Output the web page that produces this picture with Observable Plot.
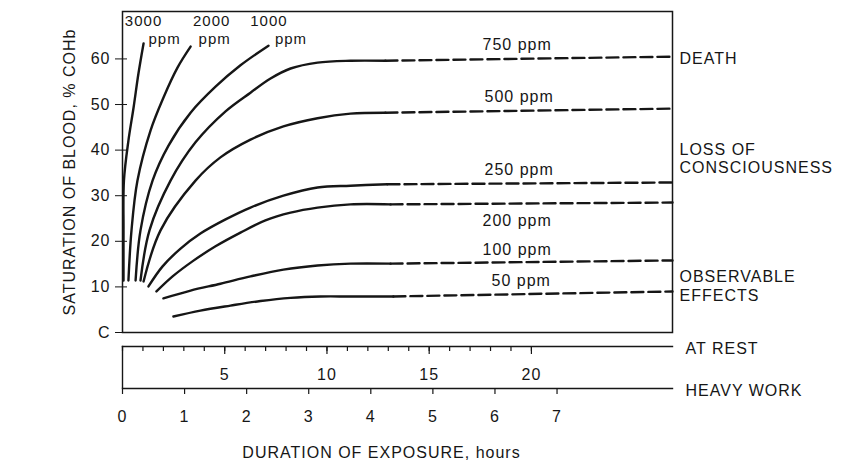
<!DOCTYPE html>
<html><head><meta charset="utf-8">
<script src="https://cdn.jsdelivr.net/npm/d3@7"></script>
<script src="https://cdn.jsdelivr.net/npm/@observablehq/plot@0.6"></script>
<style>
body{margin:0;background:#fff;}
#chart{width:863px;height:461px;position:relative;}
#chart svg{display:block;overflow:visible;}
#chart svg text{letter-spacing:1px;}
</style></head><body><div id="chart"></div>
<script>
// ---- data ----
const xMax = 26.9;        // at-rest hours at the right edge of the frame
const workMax = 8.86;     // heavy-work hours at the right edge
const yTop = 70.4;
const yTicks = [0, 10, 20, 30, 40, 50, 60];
const restTicks = d3.range(0, 21);
const restLabels = [5, 10, 15, 20];
const workTicks = [0, 1, 2, 3, 4, 5, 6, 7];

const ppm = ["3000", "2000", "1000", "750", "500", "250", "200", "100", "50"];
const c3000 = [[0.05,11.4],[0.05,22.4],[0.07,33.3],[0.29,42.1],[0.54,49.3],[0.78,56.8],[1.03,63.4]];
const c2000 = [[0.29,11.4],[0.44,22.4],[0.73,33.3],[1.37,44.3],[2.00,51.5],[2.69,58.1],[3.33,62.7]];
const c1000 = [[0.64,11.4],[0.88,22.4],[1.47,33.3],[2.25,41.0],[3.33,48.2],[4.55,53.9],[5.77,58.6],[7.14,62.9]];
const c750  = [[0.88,11.4],[1.32,22.4],[2.35,33.3],[3.57,41.7],[5.04,48.5],[6.26,52.6],[7.24,55.7],[8.22,57.9],[9.54,59.2],[11.15,59.6],[12.86,59.6]];
const c500  = [[1.03,11.2],[1.86,22.4],[3.57,33.3],[4.79,38.4],[6.26,42.3],[7.87,45.2],[9.54,47.0],[11.15,48.0],[12.86,48.2]];
const c250  = [[1.27,10.1],[1.96,14.5],[2.84,18.4],[3.81,21.7],[5.04,24.8],[6.26,27.4],[7.87,30.0],[9.54,31.8],[11.15,32.2],[12.96,32.5]];
const c200  = [[1.66,9.0],[2.45,12.3],[3.42,15.6],[4.55,18.9],[5.77,21.9],[6.99,24.6],[8.22,26.3],[9.54,27.4],[11.15,28.1],[13.11,28.1]];
const c100  = [[2.00,7.5],[3.33,9.2],[4.79,10.7],[6.26,12.3],[7.87,13.8],[9.54,14.7],[11.15,15.1],[13.11,15.1]];
const c50   = [[2.49,3.5],[3.81,4.8],[5.28,5.9],[6.75,6.9],[8.22,7.6],[9.68,7.9],[11.15,7.9],[13.25,7.9]];
const solidCurves = [c3000, c2000, c1000, c750, c500, c250, c200, c100, c50];
// level reached at the right edge (dashed extrapolation), null = no extension
const dashEnd = [null, null, null, 60.5, 49.1, 32.9, 28.5, 15.8, 9.0];

const topNums = ["3000", "2000", "1000"];
const topNumX = [1.03, 4.36, 7.16];
const topNumY = 68.3;
const topPpmX = [2.06, 4.51, 8.24];
const topPpmY = 64.3;

const curveLabels = ["750 ppm", "500 ppm", "250 ppm", "200 ppm", "100 ppm", "50 ppm"];
const curveLabelX = [19.3, 19.4, 19.4, 19.3, 19.3, 19.5];
const curveLabelY = [63.0, 51.6, 35.7, 24.5, 18.2, 11.3];

const zoneLabels = ["DEATH", "LOSS OF\nCONSCIOUSNESS", "OBSERVABLE\nEFFECTS"];
const zoneY = [60.2, 38.2, 10.3];

const yLabel = "SATURATION OF BLOOD, % COHb";
const xLabel = "DURATION OF EXPOSURE, hours";

// ---- tables ----
const solidRows = solidCurves.flatMap((pts, i) => pts.map(([x, y]) => ({s: ppm[i], x, y})));
const dashRows = solidCurves.flatMap((pts, i) => dashEnd[i] == null ? [] :
  [{s: ppm[i], x: pts[pts.length-1][0], y: pts[pts.length-1][1]}, {s: ppm[i], x: xMax, y: dashEnd[i]}]);

const ink = "#161616";
const baseStyle = {fontFamily: "'Liberation Sans', Arial, sans-serif", fontSize: "16px", color: ink, background: "transparent", overflow: "visible"};

const main = Plot.plot({
  width: 863, height: 340,
  marginLeft: 122, marginRight: 191, marginTop: 11, marginBottom: 8,
  style: baseStyle,
  x: {domain: [0, xMax], axis: null},
  y: {domain: [0, yTop], axis: null},
  marks: [
    Plot.frame({stroke: ink, strokeWidth: 1.5}),
    Plot.axisY(yTicks, {tickSize: 7, tickPadding: 5, tickFormat: d => d === 0 ? "C" : String(d),
      label: yLabel, labelAnchor: "center", labelArrow: false, labelOffset: 59, stroke: ink}),
    Plot.tickY(yTicks, {y: d => d, insetRight: 545, stroke: ink}),
    Plot.line(solidRows, {x: "x", y: "y", z: "s", curve: "catmull-rom", stroke: ink, strokeWidth: 2.4}),
    Plot.line(dashRows, {x: "x", y: "y", z: "s", stroke: ink, strokeWidth: 2.4, strokeDasharray: "12,5"}),
    Plot.text(topNums, {x: (d, i) => topNumX[i], y: () => topNumY, fill: ink, fontSize: 15}),
    Plot.text(topNums.map(() => "ppm"), {x: (d, i) => topPpmX[i], y: () => topPpmY, fill: ink, fontSize: 15}),
    Plot.text(curveLabels, {x: (d, i) => curveLabelX[i], y: (d, i) => curveLabelY[i], fill: ink}),
    Plot.text(zoneLabels, {y: (d, i) => zoneY[i], frameAnchor: "right", dx: 7, textAnchor: "start", lineHeight: 1.15, fill: ink})
  ]
});

const rest = Plot.plot({
  width: 863, height: 47,
  marginLeft: 122, marginRight: 191, marginTop: 6, marginBottom: 0,
  style: baseStyle,
  x: {domain: [0, xMax], axis: null},
  marks: [
    Plot.frame({anchor: "top", stroke: ink, strokeWidth: 1.4}),
    Plot.frame({anchor: "left", stroke: ink, strokeWidth: 1.4}),
    Plot.tickX(restTicks, {x: d => d, insetBottom: 36, stroke: ink, strokeWidth: 1.2}),
    Plot.tickX(restLabels, {x: d => d, insetBottom: 33, stroke: ink, strokeWidth: 1.2}),
    Plot.text(restLabels, {x: d => d, frameAnchor: "top", dy: 22, fill: ink}),
    Plot.text(["AT REST"], {frameAnchor: "top-right", dx: 13, dy: -4, textAnchor: "start", fill: ink})
  ]
});

const work = Plot.plot({
  width: 863, height: 74,
  marginLeft: 122, marginRight: 191, marginTop: 1, marginBottom: 0,
  style: baseStyle,
  x: {domain: [0, workMax], axis: null},
  marks: [
    Plot.frame({anchor: "top", stroke: ink, strokeWidth: 1.4}),
    Plot.tickX(workTicks, {x: d => d, insetBottom: 67, stroke: ink, strokeWidth: 1.2}),
    Plot.text(workTicks, {x: d => d, frameAnchor: "top", dy: 22, fill: ink}),
    Plot.text(["HEAVY WORK"], {frameAnchor: "top-right", dx: 13, dy: -4, textAnchor: "start", fill: ink}),
    Plot.text([xLabel], {frameAnchor: "top", dx: -16, dy: 58, fill: ink})
  ]
});

const el = document.getElementById("chart");
el.append(main, rest, work);
</script></body></html>
